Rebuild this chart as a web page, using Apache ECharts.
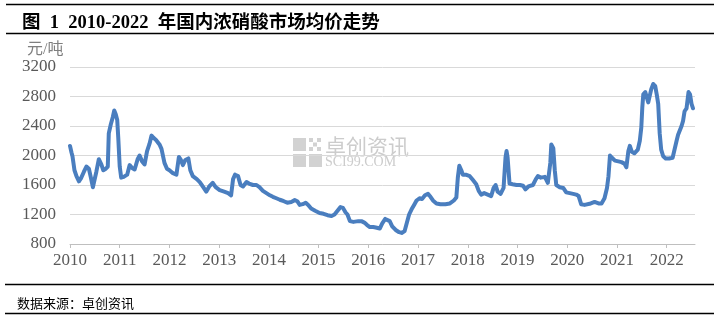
<!DOCTYPE html>
<html>
<head>
<meta charset="utf-8">
<script src="https://cdn.jsdelivr.net/npm/echarts@6/dist/echarts.min.js"></script>
<style>
html,body{margin:0;padding:0;background:#fff;}
#chart{width:720px;height:321px;}
</style>
</head>
<body>
<div id="chart"></div>
<script>
// decimal years (x) and prices in 元/吨 (y)
const times = [
2010.00,2010.03,2010.05,2010.09,2010.13,2010.18,2010.22,2010.28,2010.33,2010.38,2010.42,2010.46,2010.49,2010.53,2010.58,2010.63,2010.67,2010.72,2010.76,2010.78,2010.82,2010.86,2010.89,2010.92,2010.95,2010.97,
2011.00,2011.03,2011.08,2011.15,2011.20,2011.25,2011.30,2011.36,2011.40,2011.45,2011.50,2011.55,2011.60,2011.64,2011.68,2011.73,2011.80,2011.84,2011.90,2011.95,
2012.00,2012.07,2012.14,2012.19,2012.23,2012.27,2012.32,2012.38,2012.42,2012.47,2012.55,2012.61,2012.68,2012.74,2012.80,2012.87,2012.93,
2013.01,2013.10,2013.18,2013.24,2013.28,2013.32,2013.38,2013.43,2013.48,2013.55,2013.60,2013.68,2013.75,2013.81,2013.88,2013.95,
2014.02,2014.08,2014.15,2014.22,2014.30,2014.37,2014.45,2014.52,2014.57,2014.62,2014.68,2014.74,2014.79,2014.85,2014.93,
2015.02,2015.10,2015.18,2015.26,2015.32,2015.38,2015.44,2015.49,2015.54,2015.58,2015.63,2015.70,2015.80,2015.86,2015.92,2015.97,
2016.03,2016.10,2016.17,2016.23,2016.28,2016.34,2016.38,2016.43,2016.48,2016.55,2016.62,2016.67,2016.73,2016.77,2016.82,2016.87,2016.92,2016.97,
2017.03,2017.08,2017.14,2017.20,2017.25,2017.30,2017.37,2017.45,2017.55,2017.64,2017.72,2017.77,2017.80,2017.83,2017.87,2017.90,2017.96,
2018.04,2018.10,2018.17,2018.22,2018.27,2018.33,2018.40,2018.47,2018.52,2018.56,2018.60,2018.66,2018.72,2018.76,2018.78,2018.80,2018.84,2018.90,2018.98,
2019.05,2019.11,2019.16,2019.22,2019.31,2019.37,2019.41,2019.47,2019.55,2019.61,2019.66,2019.68,2019.72,2019.75,2019.78,2019.85,2019.92,2019.98,
2020.05,2020.12,2020.18,2020.23,2020.28,2020.35,2020.45,2020.55,2020.59,2020.63,2020.69,2020.75,2020.80,2020.83,2020.86,2020.90,2020.96,
2021.03,2021.09,2021.15,2021.19,2021.23,2021.26,2021.30,2021.35,2021.42,2021.46,2021.49,2021.51,2021.53,2021.57,2021.60,2021.63,2021.66,2021.69,2021.73,2021.77,2021.80,2021.83,2021.86,2021.89,2021.93,2021.98,
2022.05,2022.12,2022.16,2022.20,2022.23,2022.27,2022.30,2022.33,2022.36,2022.40,2022.44,2022.47,2022.50,2022.53
];
const prices = [
2130,2040,1990,1800,1720,1650,1690,1780,1850,1820,1700,1570,1580,1780,1950,1880,1800,1820,1850,2300,2420,2520,2610,2560,2480,2250,
1850,1700,1710,1740,1870,1830,1810,1950,2000,1920,1880,2060,2160,2270,2240,2210,2150,2090,1900,1820,
1800,1760,1740,1980,1940,1870,1940,1960,1800,1720,1680,1640,1570,1510,1580,1630,1570,
1530,1510,1490,1460,1680,1740,1720,1600,1580,1640,1620,1600,1600,1570,1520,1490,
1460,1440,1420,1400,1380,1360,1370,1395,1380,1330,1340,1360,1330,1280,1250,
1220,1210,1190,1180,1200,1250,1300,1290,1230,1200,1110,1100,1110,1110,1090,1060,
1030,1030,1020,1010,1080,1140,1145,1110,1040,990,960,950,975,1000,1200,1270,1330,1390,
1420,1410,1460,1480,1440,1390,1350,1340,1340,1350,1390,1430,1700,1860,1800,1740,1740,
1720,1670,1610,1520,1470,1490,1470,1450,1560,1600,1510,1480,1560,1980,2060,1980,1620,1610,1600,
1600,1590,1540,1580,1600,1680,1720,1700,1710,1630,1900,2150,2100,1800,1600,1570,1560,1500,
1490,1480,1470,1450,1340,1330,1345,1370,1395,1350,1350,1420,1560,1720,2000,1970,1930,
1920,1910,1890,1840,2060,2130,2050,2030,2080,2200,2380,2650,2830,2860,2870,2720,2700,2900,2970,2940,2830,2700,2300,2080,1990,1960,
1960,1970,1990,2200,2280,2260,2400,2470,2600,2640,2860,2830,2700,2640
];
const yearTicks = [2010,2011,2012,2013,2014,2015,2016,2017,2018,2019,2020,2021,2022];
const yTicks = [800,1200,1600,2000,2400,2800,3200];

const seriesData = times.map((t, i) => [t, prices[i]]);
const serif = '"Liberation Serif","Noto Sans CJK SC",serif';
const wmColor = '#d2d2d2';

const chart = echarts.init(document.getElementById('chart'), null, {renderer: 'canvas'});
chart.setOption({
  animation: false,
  backgroundColor: '#fff',
  title: [
    {text: '图\u20021\u20022010-2022\u2002年国内浓硝酸市场均价走势', left: 17, top: 9,
     textStyle: {fontSize: 18.5, fontWeight: 'bold', color: '#000', fontFamily: serif}},
    {text: '数据来源：卓创资讯', left: 12, top: 292,
     textStyle: {fontSize: 13, fontWeight: 'normal', color: '#000', fontFamily: '"Noto Sans CJK SC",sans-serif'}}
  ],
  grid: {left: 70, right: 25, top: 67, bottom: 77},
  xAxis: {
    type: 'value', min: 2010, max: 2022.57, interval: 1,
    axisLine: {show: true, lineStyle: {color: '#bfbfbf', width: 1}},
    axisTick: {show: true, length: 4, lineStyle: {color: '#bfbfbf'}, customValues: yearTicks},
    splitLine: {show: false},
    axisLabel: {color: '#595959', fontSize: 17, fontFamily: serif, margin: 8, customValues: yearTicks,
      formatter: v => (Math.abs(v - Math.round(v)) < 1e-6 ? String(Math.round(v)) : '')}
  },
  yAxis: {
    type: 'value', min: yTicks[0], max: yTicks[yTicks.length - 1], interval: 400,
    axisLine: {show: false}, axisTick: {show: false},
    splitLine: {lineStyle: {color: '#d9d9d9', width: 1}},
    axisLabel: {color: '#595959', fontSize: 17, fontFamily: serif, margin: 14,
      formatter: v => String(v)}
  },
  graphic: [
    {type: 'line', shape: {x1: 6, y1: 4.5, x2: 714, y2: 4.5}, style: {stroke: '#000', lineWidth: 1.5}},
    {type: 'line', shape: {x1: 6, y1: 33.5, x2: 714, y2: 33.5}, style: {stroke: '#000', lineWidth: 1.5}},
    {type: 'line', shape: {x1: 5, y1: 284.5, x2: 714, y2: 284.5}, style: {stroke: '#000', lineWidth: 1.5}},
    {type: 'line', shape: {x1: 5, y1: 313.5, x2: 714, y2: 313.5}, style: {stroke: '#000', lineWidth: 1.5}},
    {type: 'text', left: 27, top: 42, style: {text: '元/吨', fontSize: 16, fill: '#7f7f7f', fontFamily: serif}},
    // watermark
    {type: 'group', left: 293, top: 138, z: 0, children: [
      {type: 'rect', shape: {x: 0, y: 0, width: 13, height: 13}, style: {fill: wmColor}},
      {type: 'rect', shape: {x: 16, y: 0, width: 4, height: 4}, style: {fill: wmColor}},
      {type: 'rect', shape: {x: 24, y: 0, width: 4, height: 4}, style: {fill: wmColor}},
      {type: 'rect', shape: {x: 20, y: 4.5, width: 4, height: 4}, style: {fill: wmColor}},
      {type: 'rect', shape: {x: 16, y: 9, width: 4, height: 4}, style: {fill: wmColor}},
      {type: 'rect', shape: {x: 24, y: 9, width: 4, height: 4}, style: {fill: wmColor}},
      {type: 'rect', shape: {x: 0, y: 16, width: 13, height: 13}, style: {fill: wmColor}},
      {type: 'rect', shape: {x: 16, y: 16, width: 13, height: 13}, style: {fill: wmColor}}
    ]},
    {type: 'text', left: 325, top: 136, z: 0, style: {text: '卓创资讯', fontSize: 21, fill: '#cccccc', fontFamily: '"Noto Sans CJK SC",sans-serif'}},
    {type: 'text', left: 325, top: 155, z: 0, style: {text: 'SCI99.COM', fontSize: 14, fill: '#cccccc', fontFamily: serif}}
  ],
  series: [{
    type: 'line', data: seriesData, showSymbol: false, symbol: 'none', smooth: false,
    lineStyle: {color: '#4A7EBF', width: 4, join: 'round', cap: 'round'},
    z: 5
  }]
});
</script>
</body>
</html>
